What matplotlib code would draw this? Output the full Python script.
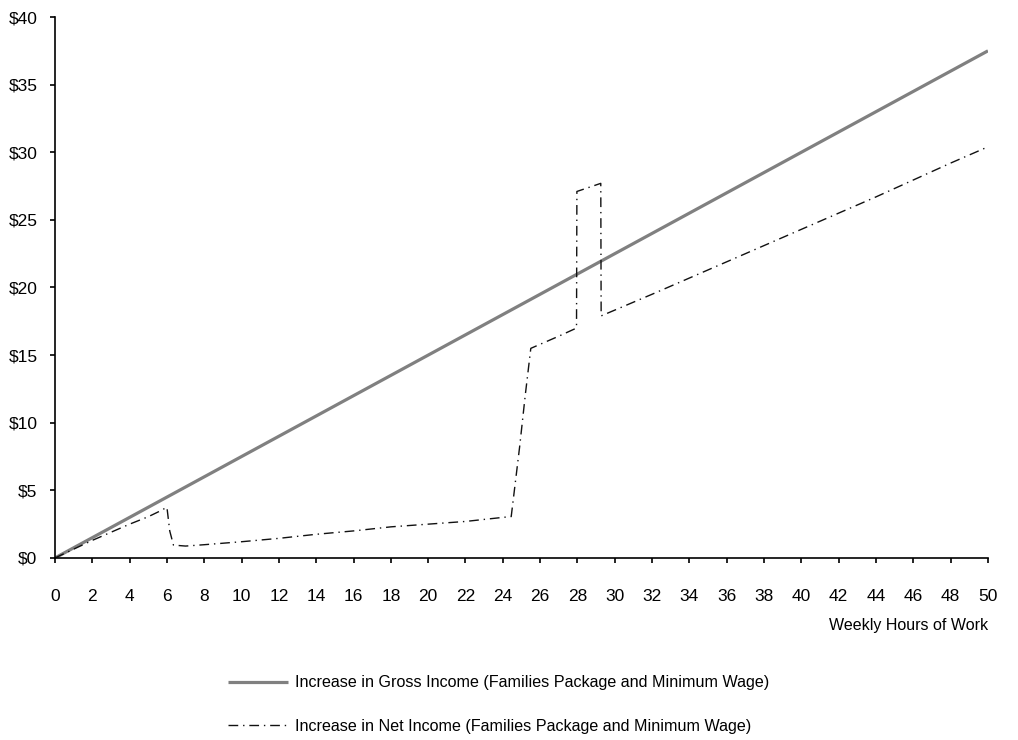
import matplotlib
matplotlib.use("Agg")
import matplotlib.pyplot as plt
from matplotlib.ticker import FuncFormatter, MultipleLocator

plt.rcParams['font.family'] = ['Liberation Sans', 'DejaVu Sans']

hours_gross = [0, 50]
gross_income = [0.0, 37.5]

hours_net = [0, 1, 2, 3, 4, 5, 5.6, 6.0, 6.15, 6.35, 7, 8, 10, 12, 14, 16, 18, 20, 22, 24, 24.45,
             24.9, 25.2, 25.5, 26, 27, 27.95, 27.97, 29.25, 29.27, 32, 36, 40, 44, 48, 50]
net_income = [0.0, 0.65, 1.3, 1.9, 2.5, 3.05, 3.45, 3.75, 2.0, 0.95, 0.88, 0.98, 1.2, 1.45, 1.75, 2.0, 2.3, 2.5, 2.7, 3.0, 3.06,
              8.2, 12.0, 15.5, 15.8, 16.4, 17.0, 27.1, 27.7, 17.9, 19.5, 21.9, 24.3, 26.7, 29.2, 30.4]

fig = plt.figure(figsize=(10.18, 7.40), dpi=100)
ax = fig.add_axes([0.054, 0.246, 0.9165, 0.731])

ax.plot(hours_gross, gross_income, color='#808080', lw=2.3, solid_capstyle='butt',
        label='Increase in Gross Income (Families Package and Minimum Wage)')
ax.plot(hours_net, net_income, color='#111111', lw=1.0, linestyle=(0, (7, 3.5, 1, 3.5)),
        label='Increase in Net Income (Families Package and Minimum Wage)')

ax.set_xlim(0, 50)
ax.set_ylim(0, 40)
ax.xaxis.set_major_locator(MultipleLocator(2))
ax.yaxis.set_major_locator(MultipleLocator(5))
ax.yaxis.set_major_formatter(FuncFormatter(lambda v, p: f"${v:.0f}"))
ax.spines['top'].set_visible(False)
ax.spines['right'].set_visible(False)
for s in ('left', 'bottom'):
    ax.spines[s].set_linewidth(1.2)
ax.tick_params(axis='both', direction='out', length=3.6, width=1.2, labelsize=12.5, colors='black')
ax.tick_params(axis='x', pad=19)
ax.tick_params(axis='y', pad=9)

ax.set_xlabel('Weekly Hours of Work', fontsize=11.5, loc='right', labelpad=10)

fig.legend(loc='center', bbox_to_anchor=(0.490, 0.048), ncol=1, frameon=False, fontsize=11.6,
           handlelength=3.72, labelspacing=1.75, handletextpad=0.45)

fig.savefig('out.png', dpi=100)
